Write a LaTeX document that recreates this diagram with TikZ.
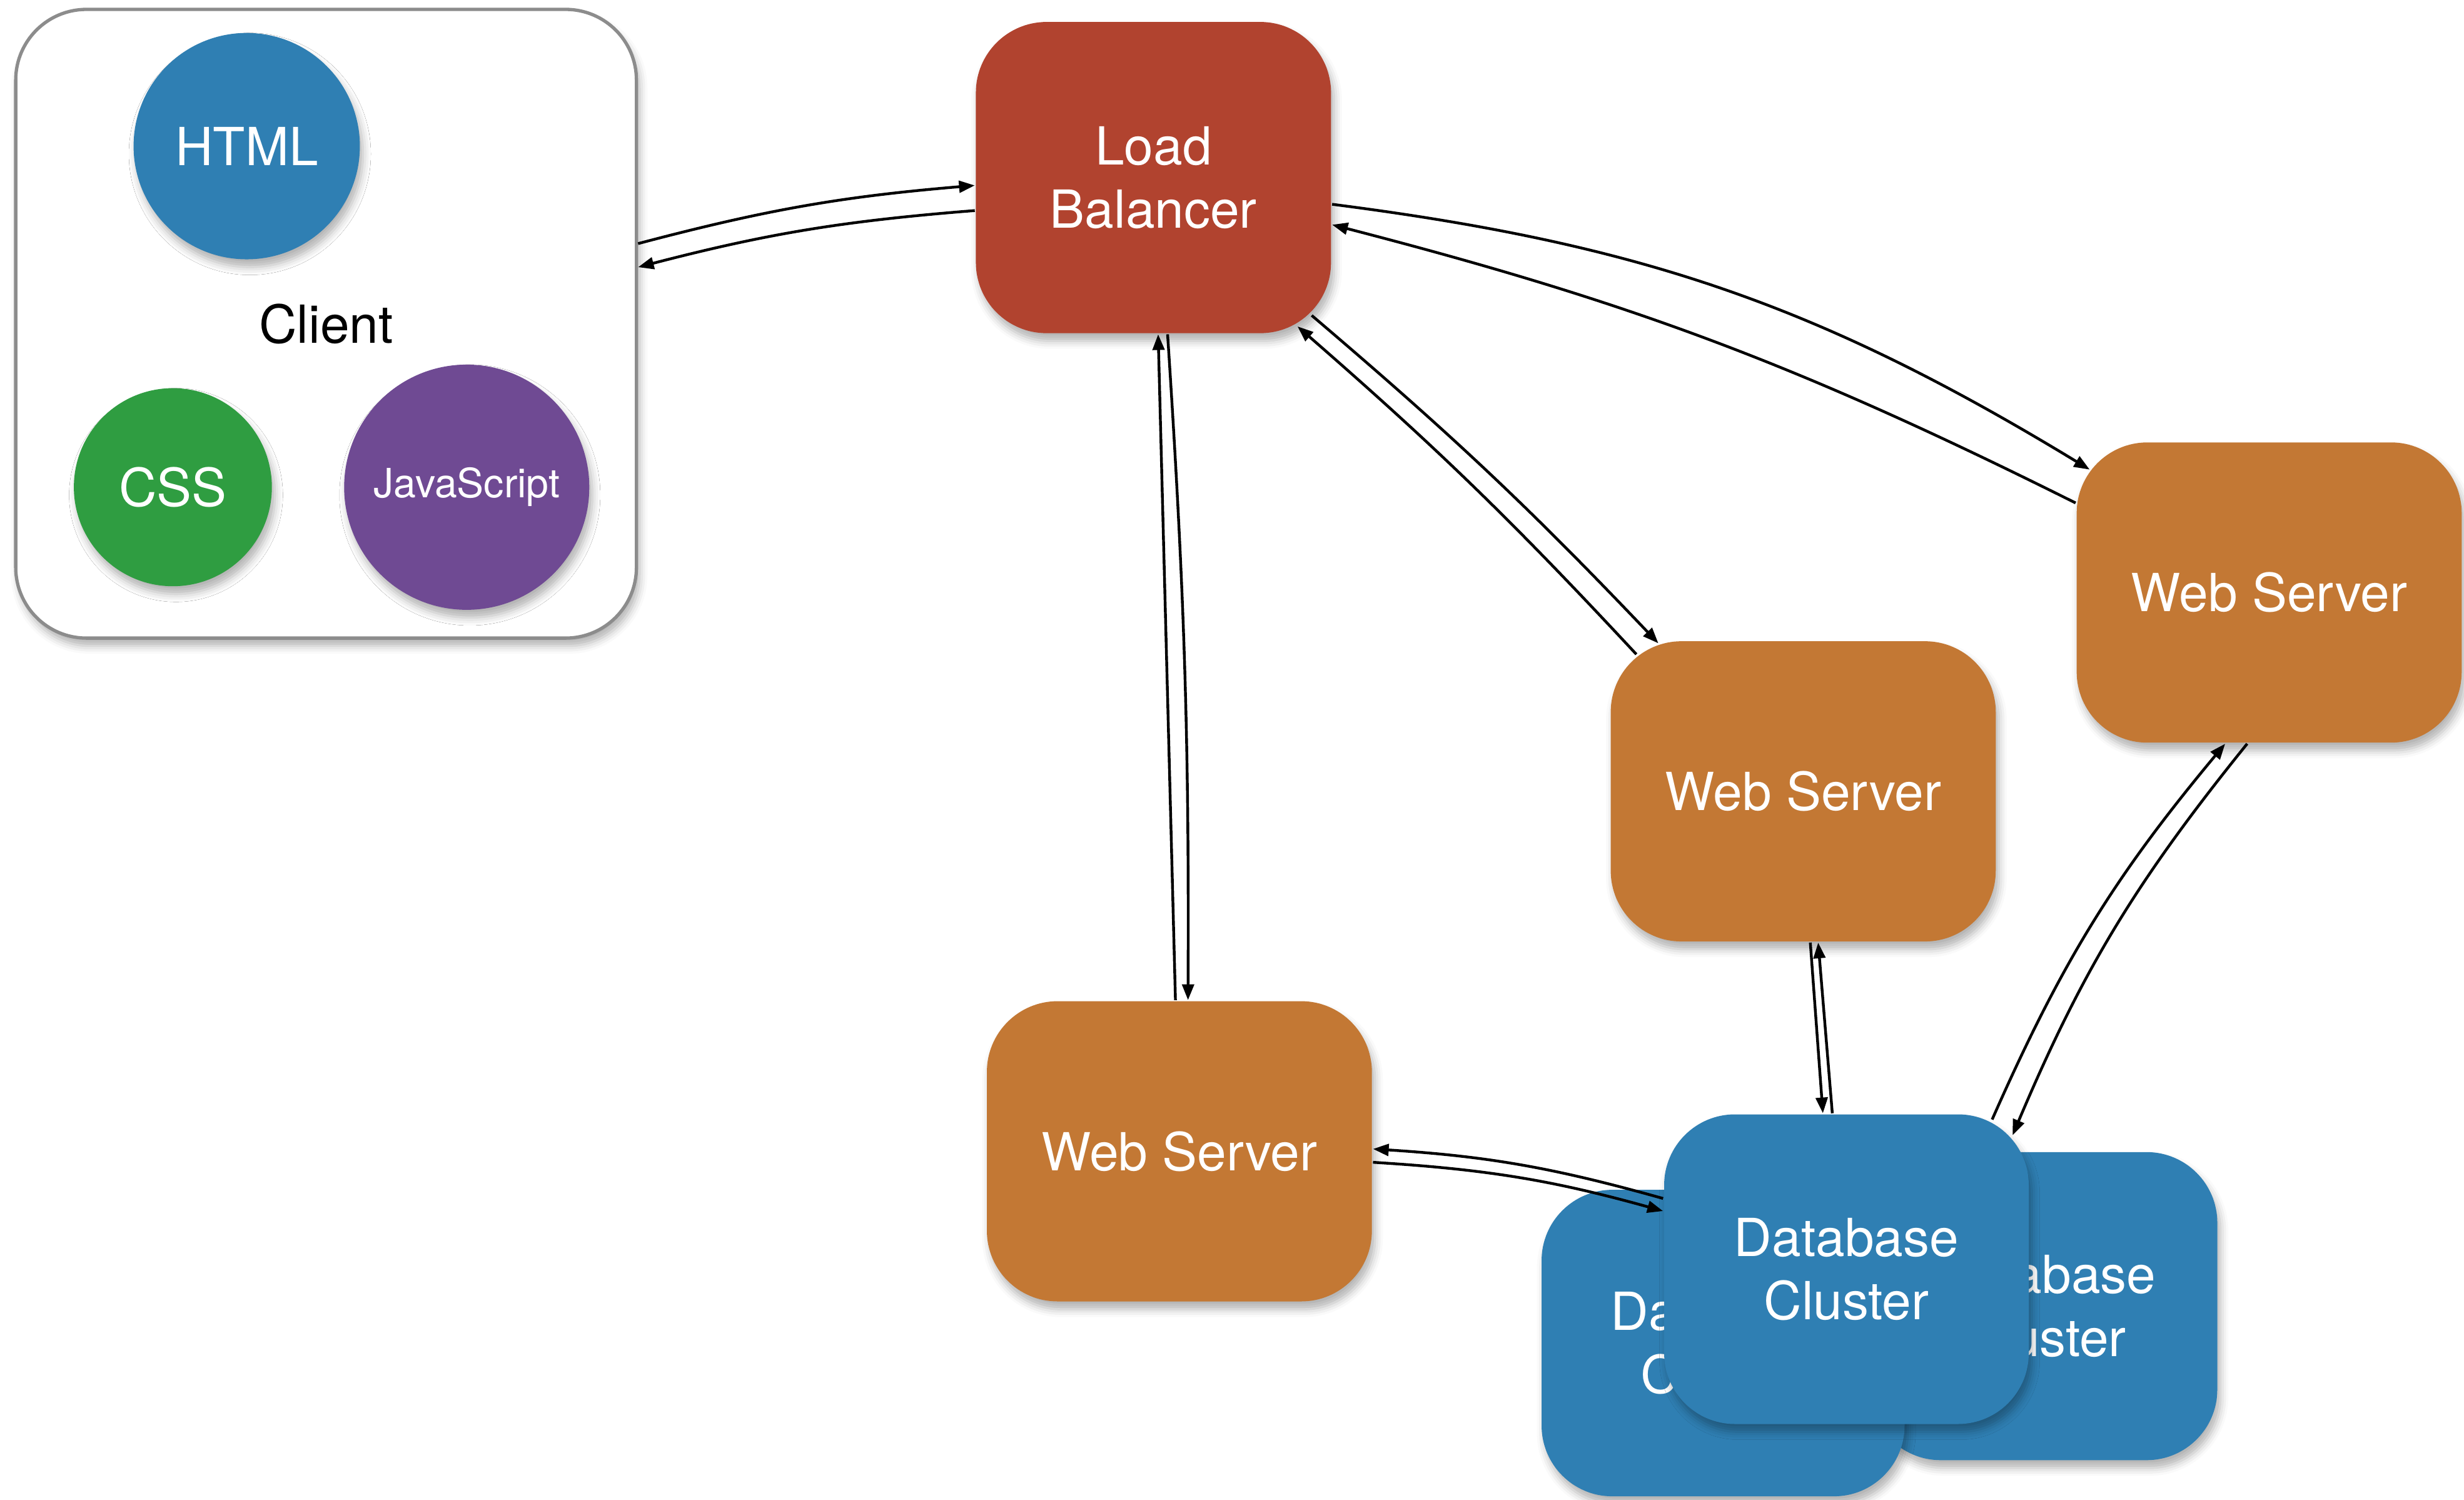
\documentclass[tikz,border=0pt]{standalone}
\usepackage{fontspec}
\setmainfont{TeX Gyre Heros}
\usetikzlibrary{arrows.meta, shadows.blur}

\definecolor{tileblue}{HTML}{2F7FB3}
\definecolor{tilered}{HTML}{B1432F}
\definecolor{tileorange}{HTML}{C37834}
\definecolor{tilegreen}{HTML}{2F9D41}
\definecolor{tilepurple}{HTML}{6F4A93}
\definecolor{framegray}{HTML}{8C8C8C}

\begin{document}
\begin{tikzpicture}[
  font=\fontsize{9.5}{11.5}\selectfont,
  >={Triangle[length=1mm, width=0.75mm]},
  soft/.style={blur shadow={shadow xshift=0.2mm, shadow yshift=-0.5mm,
               shadow blur radius=0.5mm, shadow opacity=30}},
  tile/.style={soft, rounded corners=4.5mm, align=center, text=white, inner sep=0pt},
  balancer/.style={tile, fill=tilered, minimum width=22.6mm, minimum height=19.8mm},
  webserver/.style={tile, fill=tileorange, minimum width=24.5mm, minimum height=19.1mm},
  database/.style={tile, fill=tileblue, minimum width=23.2mm, minimum height=19.7mm},
  asset/.style={soft, circle, text=white, inner sep=0pt},
  flow/.style={->, line width=0.5pt},
]
\useasboundingbox (0,0) rectangle (15.68,9.54);
% client side
\node[soft, draw=framegray, line width=0.6pt, fill=white, rounded corners=4.5mm,
      minimum width=39.5mm, minimum height=40mm] (client) at (2.075,7.48) {};
\node (clientlbl) at (client.center) {Client};
\node[asset, fill=tileblue, minimum size=14.4mm] (html) at (1.57,8.61) {HTML};
\node[asset, fill=tilegreen, minimum size=12.6mm] (css) at (1.10,6.44) {CSS};
\node[asset, fill=tilepurple, minimum size=15.6mm, font=\fontsize{7.3}{9}\selectfont]
     (js) at (2.97,6.44) {JavaScript};
% load balancer and web servers
\node[balancer] (lb) at (7.34,8.41) {Load\\Balancer};
\node[webserver] (wsr) at (14.44,5.77) {Web Server};
\node[webserver] (wsm) at (11.475,4.505) {Web Server};
\node[webserver] (wsl) at (7.505,2.215) {Web Server};
% database cluster
\node[database, minimum width=22.1mm, minimum height=19.6mm] (dbr) at (13.005,1.23) {Database\\Cluster};
\node[database, minimum width=23.1mm, minimum height=19.5mm] (dbl) at (10.965,0.995) {Database\\Cluster};
\node[database] (db) at (11.75,1.465) {Database\\Cluster};
% flows
\draw[flow] ([yshift=5.1mm]client.east) to[bend left=5] ([yshift=-0.5mm]lb.west);
\draw[flow] ([yshift=-2.1mm]lb.west) to[bend right=5] ([yshift=3.6mm]client.east);
\draw[flow] ([yshift=-1.7mm]lb.east) to[bend left=12] ([shift={(0.9mm,-1.8mm)}]wsr.north west);
\draw[flow] ([yshift=5.7mm]wsr.west) to[bend right=6] ([yshift=-3mm]lb.east);
\draw[flow] ([shift={(-1.3mm,1.2mm)}]lb.south east) to[bend left=3] ([shift={(3.1mm,-0.2mm)}]wsm.north west);
\draw[flow] ([shift={(1.7mm,-0.9mm)}]wsm.north west) to[bend right=3] ([shift={(-2.2mm,0.5mm)}]lb.south east);
\draw[flow] ([xshift=-0.25mm]wsl.north) -- ([xshift=0.3mm]lb.south);
\draw[flow] ([xshift=0.9mm]lb.south) to[bend left=2] ([xshift=0.55mm]wsl.north);
\draw[flow] ([xshift=0.45mm]wsm.south) -- ([xshift=-1.5mm]db.north);
\draw[flow] ([xshift=-0.9mm]db.north) -- ([xshift=0.95mm]wsm.south);
\draw[flow] ([shift={(-2.4mm,-0.4mm)}]db.north east) to[bend left=8] ([xshift=-2.8mm]wsr.south);
\draw[flow] ([xshift=-1.4mm]wsr.south) to[bend right=8] ([shift={(-1.1mm,-1.4mm)}]db.north east);
\draw[flow] ([yshift=4.5mm]db.west) to[bend right=6] ([yshift=0.15mm]wsl.east);
\draw[flow] ([yshift=-0.7mm]wsl.east) to[bend left=6] ([yshift=3.7mm]db.west);
\end{tikzpicture}
\end{document}
